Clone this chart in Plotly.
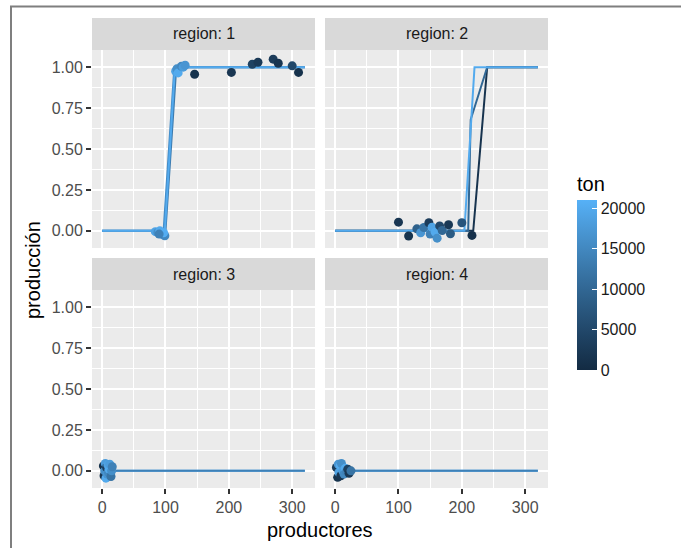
import plotly.graph_objects as go

# ---------------- data ----------------
# region 1 observations
r1_x = [84, 88, 91, 94, 96, 99, 97, 90, 116, 118, 120, 125, 128, 131,
        146, 204, 237, 246, 270, 278, 300, 310]
r1_y = [-0.005, -0.01, 0.0, -0.018, -0.025, -0.03, -0.012, -0.02,
        0.975, 0.99, 0.965, 1.005, 1.0, 1.012,
        0.957, 0.968, 1.018, 1.03, 1.049, 1.024, 1.008, 0.968]
r1_ton = [19000, 16000, 20000, 17000, 18500, 15000, 20500, 14000,
          19000, 16000, 20000, 15000, 18000, 17000,
          1500, 2000, 4000, 2500, 3000, 1800, 5000, 1200]

# region 2 observations
r2_x = [100, 116, 129, 135, 140, 148, 150, 153, 158, 161, 165, 169, 179, 182, 200, 216]
r2_y = [0.053, -0.032, 0.012, -0.012, 0.02, 0.049, -0.02, 0.022, -0.008, -0.045,
        0.03, 0.002, 0.037, -0.018, 0.049, -0.028]
r2_ton = [2000, 1500, 9000, 17000, 12000, 3000, 14000, 19000, 20000, 16000,
          5000, 10000, 2500, 8000, 7000, 1000]

# region 3 observations
r3_x = [2, 3, 4, 5, 6, 7, 8, 9, 10, 11, 12, 14, 15, 16]
r3_y = [0.03, -0.03, 0.0, 0.045, -0.045, 0.02, -0.02, 0.035, -0.01, 0.01, 0.04, -0.035, 0.0, 0.025]
r3_ton = [1000, 2000, 16000, 18000, 20000, 3000, 17000, 19000, 15000, 20000, 18000, 12000, 16000, 14000]

# region 4 observations
r4_x = [2, 4, 5, 6, 8, 9, 10, 12, 14, 16, 18, 20, 22, 25]
r4_y = [0.02, -0.04, 0.04, -0.01, 0.03, -0.03, 0.045, 0.0, -0.02, 0.015, -0.005, 0.01, -0.015, 0.0]
r4_ton = [3000, 1500, 17000, 19000, 20000, 2000, 16000, 18000, 15000, 20000, 14000, 4000, 2500, 12000]

# fitted lines (x, y, ton) per region
r1_lines = [([0, 97, 114, 320], [0, 0, 1, 1], 16000),
            ([0, 100, 117, 320], [0, 0, 1, 1], 13000),
            ([0, 99, 115, 320], [0, 0, 1, 1], 20000)]
r2_lines = [([0, 218, 240, 320], [0, 0, 1, 1], 1500),
            ([0, 210, 214, 240, 320], [0, 0, 0.68, 1, 1], 10000),
            ([0, 204, 220, 320], [0, 0, 1, 1], 20000)]
r3_lines = [([3, 320], [0, 0], 20000),
            ([3, 320], [0, 0], 14000)]
r4_lines = [([8, 320], [0, 0], 20000),
            ([8, 320], [0, 0], 14000)]

region_labels = ["region: 1", "region: 2", "region: 3", "region: 4"]
x_ticks = [0, 100, 200, 300]
y_ticks = [0, 0.25, 0.5, 0.75, 1.0]
y_tick_text = ["0.00", "0.25", "0.50", "0.75", "1.00"]
ton_ticks = [0, 5000, 10000, 15000, 20000]
ton_tick_text = ["0", "5000", "10000", "15000", "20000"]
TON_MIN, TON_MAX = 0, 21000

# ---------------- colour scale (ggplot-like Lab gradient) ----------------
LOW, HIGH = "#132B43", "#56B1F7"


def _hex2rgb(h):
    h = h.lstrip("#")
    return [int(h[i:i + 2], 16) / 255 for i in (0, 2, 4)]


def _rgb2lab(rgb):
    lin = [c / 12.92 if c <= 0.04045 else ((c + 0.055) / 1.055) ** 2.4 for c in rgb]
    X = 0.4124 * lin[0] + 0.3576 * lin[1] + 0.1805 * lin[2]
    Y = 0.2126 * lin[0] + 0.7152 * lin[1] + 0.0722 * lin[2]
    Z = 0.0193 * lin[0] + 0.1192 * lin[1] + 0.9505 * lin[2]
    Xn, Yn, Zn = 0.95047, 1.0, 1.08883

    def f(t):
        return t ** (1 / 3) if t > 0.008856 else 7.787 * t + 16 / 116
    fx_, fy_, fz_ = f(X / Xn), f(Y / Yn), f(Z / Zn)
    return [116 * fy_ - 16, 500 * (fx_ - fy_), 200 * (fy_ - fz_)]


def _lab2hex(lab):
    L, a, b = lab
    fy_ = (L + 16) / 116
    fx_ = fy_ + a / 500
    fz_ = fy_ - b / 200

    def finv(t):
        return t ** 3 if t ** 3 > 0.008856 else (t - 16 / 116) / 7.787
    X, Y, Z = 0.95047 * finv(fx_), finv(fy_), 1.08883 * finv(fz_)
    r = 3.2406 * X - 1.5372 * Y - 0.4986 * Z
    g = -0.9689 * X + 1.8758 * Y + 0.0415 * Z
    bb = 0.0557 * X - 0.2040 * Y + 1.0570 * Z
    out = []
    for c in (r, g, bb):
        c = max(0.0, c)
        c = 12.92 * c if c <= 0.0031308 else 1.055 * c ** (1 / 2.4) - 0.055
        out.append(max(0, min(255, round(c * 255))))
    return "#%02x%02x%02x" % tuple(out)


_lab_lo, _lab_hi = _rgb2lab(_hex2rgb(LOW)), _rgb2lab(_hex2rgb(HIGH))


def ton_color(t):
    f = (t - TON_MIN) / (TON_MAX - TON_MIN)
    f = max(0.0, min(1.0, f))
    return _lab2hex([lo + (hi - lo) * f for lo, hi in zip(_lab_lo, _lab_hi)])


colorscale = [[i / 10, _lab2hex([lo + (hi - lo) * i / 10 for lo, hi in zip(_lab_lo, _lab_hi)])]
              for i in range(11)]

# ---------------- geometry ----------------
W, H = 681, 548
cols = [(92, 315), (325, 548)]
rows = [(50, 248), (290, 488)]
strips = [(18, 50), (258, 290)]


def fx(p):
    return p / W


def fy(p):
    return 1 - p / H


FONT = "Liberation Sans, Arial, sans-serif"

fig = go.Figure()

regions = [(r1_x, r1_y, r1_ton, r1_lines), (r2_x, r2_y, r2_ton, r2_lines),
           (r3_x, r3_y, r3_ton, r3_lines), (r4_x, r4_y, r4_ton, r4_lines)]

shapes = []
annotations = []
for i, (px, py, pt, lines) in enumerate(regions):
    r, c = divmod(i, 2)
    sfx = "" if i == 0 else str(i + 1)
    xa, ya = "x" + sfx, "y" + sfx
    for lx, ly, lt in lines:
        fig.add_trace(go.Scatter(x=lx, y=ly, mode="lines", xaxis=xa, yaxis=ya,
                                 line=dict(color=ton_color(lt), width=2),
                                 showlegend=False, hoverinfo="skip"))
    fig.add_trace(go.Scatter(x=px, y=py, mode="markers", xaxis=xa, yaxis=ya,
                             marker=dict(color=pt, coloraxis="coloraxis", size=9,
                                         line=dict(width=0)),
                             showlegend=False))
    x0, x1 = cols[c]
    y0, y1 = rows[r]
    bottom = r == 1
    left = c == 0
    fig.layout["xaxis" + sfx] = dict(
        domain=[fx(x0), fx(x1)], anchor=ya, range=[-16, 336],
        tickvals=x_ticks, showticklabels=bottom, ticks="outside" if bottom else "",
        ticklen=5, tickwidth=1.5, tickcolor="#333333",
        tickfont=dict(family=FONT, size=16, color="#4D4D4D"),
        showgrid=True, gridcolor="white", gridwidth=1.8, zeroline=False, showline=False,
        minor=dict(tickvals=[50, 150, 250], showgrid=True, gridcolor="white", gridwidth=0.9),
        fixedrange=True)
    fig.layout["yaxis" + sfx] = dict(
        domain=[fy(y1), fy(y0)], anchor=xa, range=[-0.105, 1.105],
        tickvals=y_ticks, ticktext=y_tick_text, showticklabels=left,
        ticks="outside" if left else "",
        ticklen=5, tickwidth=1.5, tickcolor="#333333",
        tickfont=dict(family=FONT, size=16, color="#4D4D4D"),
        showgrid=True, gridcolor="white", gridwidth=1.8, zeroline=False, showline=False,
        minor=dict(tickvals=[0.125, 0.375, 0.625, 0.875], showgrid=True,
                   gridcolor="white", gridwidth=0.9),
        fixedrange=True)
    s0, s1 = strips[r]
    shapes.append(dict(type="rect", xref="paper", yref="paper",
                       x0=fx(x0), x1=fx(x1), y0=fy(s1), y1=fy(s0),
                       fillcolor="#D9D9D9", line=dict(width=0), layer="below"))
    annotations.append(dict(text=region_labels[i], xref="paper", yref="paper",
                            x=fx((x0 + x1) / 2), y=fy((s0 + s1) / 2),
                            xanchor="center", yanchor="middle", showarrow=False,
                            font=dict(family=FONT, size=16, color="#1A1A1A")))

# axis titles
annotations.append(dict(text="productores", xref="paper", yref="paper",
                        x=fx((cols[0][0] + cols[1][1]) / 2), y=fy(530),
                        xanchor="center", yanchor="middle", showarrow=False,
                        font=dict(family=FONT, size=20, color="black")))
annotations.append(dict(text="producción", xref="paper", yref="paper",
                        x=fx(33), y=fy(270), textangle=-90,
                        xanchor="center", yanchor="middle", showarrow=False,
                        font=dict(family=FONT, size=20, color="black")))

# frame lines of the screenshot
shapes.append(dict(type="line", xref="paper", yref="paper",
                   x0=fx(10), x1=1, y0=fy(6.5), y1=fy(6.5),
                   line=dict(color="#7f7f7f", width=2)))
shapes.append(dict(type="line", xref="paper", yref="paper",
                   x0=fx(11), x1=fx(11), y0=fy(6.5), y1=0,
                   line=dict(color="#7f7f7f", width=2)))

fig.update_layout(
    width=W, height=H,
    margin=dict(l=0, r=0, t=0, b=0, autoexpand=False),
    paper_bgcolor="white", plot_bgcolor="#EBEBEB",
    shapes=shapes, annotations=annotations,
    coloraxis=dict(
        colorscale=colorscale, cmin=TON_MIN, cmax=TON_MAX,
        colorbar=dict(
            title=dict(text="ton", side="top", font=dict(family=FONT, size=20, color="black")),
            thickness=20, thicknessmode="pixels",
            len=197, lenmode="pixels",
            x=fx(577), xanchor="left", y=fy(271.5), yanchor="middle",
            xpad=0, ypad=0, outlinewidth=0,
            tickvals=ton_ticks, ticktext=ton_tick_text,
            ticks="inside", tickcolor="white", ticklen=5, tickwidth=1.2,
            tickfont=dict(family=FONT, size=16, color="#1A1A1A"),
        )),
)

fig.write_html("out.html", config={"displayModeBar": False},
               post_script="document.body.style.margin='0';document.body.style.overflow='hidden';")
